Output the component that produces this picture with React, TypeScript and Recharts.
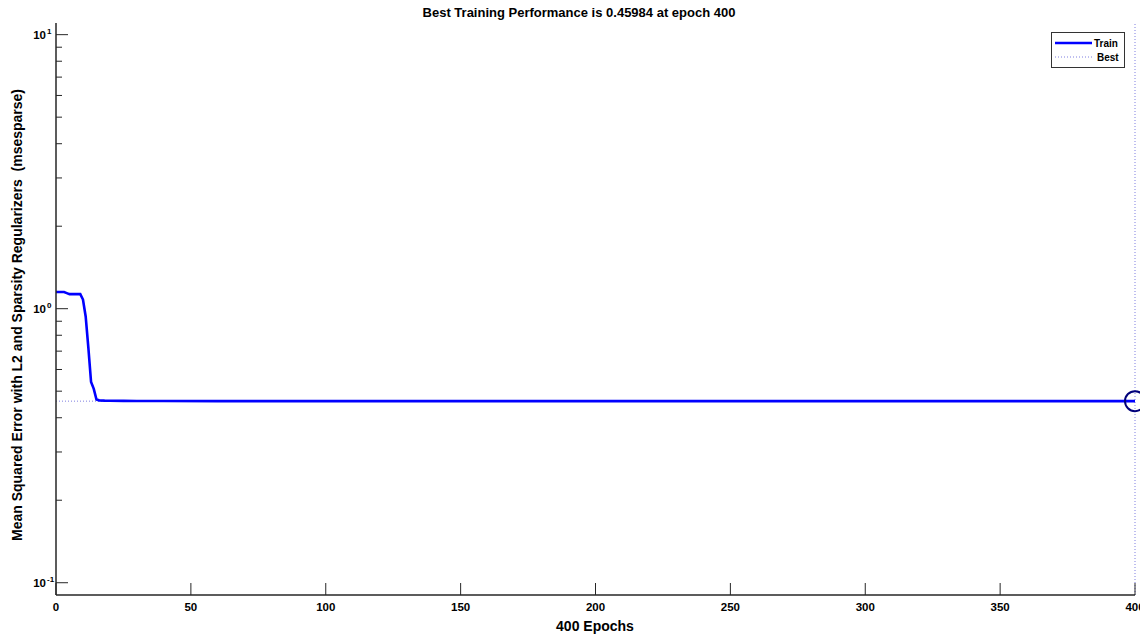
import React from 'react';
import {
  LineChart,
  Line,
  XAxis,
  YAxis,
  ReferenceLine,
  ReferenceDot,
  Legend,
  Customized
} from 'recharts';

// training record
const epochs = [0, 3, 4, 5, 9, 10, 11, 12, 13, 14, 15, 16, 18, 20, 25, 30, 40, 60, 100, 150, 200, 250, 300, 350, 400];
const trainPerf = [1.15, 1.15, 1.14, 1.13, 1.13, 1.08, 0.937, 0.72, 0.54, 0.51, 0.466, 0.463, 0.462, 0.4615, 0.461, 0.4607, 0.4603, 0.4601, 0.46, 0.4599, 0.45988, 0.45986, 0.45985, 0.45984, 0.45984];

const bestEpoch = 400;
const bestPerf = 0.45984;

const xTicks = [0, 50, 100, 150, 200, 250, 300, 350, 400];
const yMajor = [0.1, 1, 10];
const yMajorExp = ['-1', '0', '1'];
const yTicks = [0.1, 0.2, 0.3, 0.4, 0.5, 0.6, 0.7, 0.8, 0.9, 1, 2, 3, 4, 5, 6, 7, 8, 9, 10];
const yDomain = [0.0902, 11.03];

const data = epochs.map((e, i) => ({ epoch: e, train: trainPerf[i] }));

const FONT = '"Liberation Sans", Arial, sans-serif';
const AXIS = '#262626';
const BEST = '#7f7fe0';

const YTick = (props: any) => {
  const { x, y, payload } = props;
  const idx = yMajor.indexOf(payload.value);
  const major = idx >= 0;
  return (
    <g>
      <line x1={x} x2={x + (major ? 12 : 6)} y1={y} y2={y} stroke={AXIS} strokeWidth={1} />
      {major && (
        <text x={x - 10} y={y + 4} textAnchor="end" fontFamily={FONT} fontWeight="bold" fontSize={11.5} fill="#000">
          10
        </text>
      )}
      {major && (
        <text x={x - 9} y={y - 1} textAnchor="start" fontFamily={FONT} fontWeight="bold" fontSize={8} fill="#000">
          {yMajorExp[idx]}
        </text>
      )}
    </g>
  );
};

const XTick = (props: any) => {
  const { x, y, payload } = props;
  return (
    <g>
      <line x1={x} x2={x} y1={y} y2={y - 12} stroke={AXIS} strokeWidth={1} />
      <text x={x} y={y + 16} textAnchor="middle" fontFamily={FONT} fontWeight="bold" fontSize={11.5} fill="#000">
        {payload.value}
      </text>
    </g>
  );
};

const Labels = () => (
  <g fontFamily={FONT} fontWeight="bold" fill="#000">
    <text x={579} y={17} textAnchor="middle" fontSize={13}>
      Best Training Performance is 0.45984 at epoch 400
    </text>
    <text x={595} y={631} textAnchor="middle" fontSize={14}>
      400 Epochs
    </text>
    <text x={22} y={315} textAnchor="middle" fontSize={14} transform="rotate(-90 22 315)">
      {'Mean Squared Error with L2 and Sparsity Regularizers\u00a0 (msesparse)'}
    </text>
  </g>
);

const LegendBox = () => (
  <div
    style={{
      border: '1.5px solid #333',
      background: '#fff',
      width: 72,
      padding: '3px 0',
      fontFamily: FONT,
      fontWeight: 'bold',
      fontSize: 10,
      color: '#000'
    }}
  >
    <div style={{ display: 'flex', alignItems: 'center', height: 14 }}>
      <svg width={42} height={14}>
        <line x1={3} x2={40} y1={7} y2={7} stroke="#0000ff" strokeWidth={2.5} />
      </svg>
      <span>Train</span>
    </div>
    <div style={{ display: 'flex', alignItems: 'center', height: 14 }}>
      <svg width={42} height={14}>
        <line x1={3} x2={40} y1={7} y2={7} stroke={BEST} strokeWidth={1} strokeDasharray="1 2" />
      </svg>
      <span style={{ marginLeft: 3 }}>Best</span>
    </div>
  </div>
);

export default function App() {
  return (
    <div style={{ position: 'absolute', left: 0, top: 0, width: 1140, height: 638, background: '#fff', overflow: 'hidden' }}>
      <LineChart width={1140} height={638} data={data} margin={{ top: 23, right: 5, bottom: 42, left: 55 }}>
        <XAxis
          dataKey="epoch"
          type="number"
          domain={[0, 400]}
          ticks={xTicks}
          height={1}
          tickSize={0}
          tickMargin={0}
          tick={<XTick />}
          stroke={AXIS}
          strokeWidth={1.5}
          interval={0}
        />
        <YAxis
          scale="log"
          type="number"
          domain={yDomain}
          allowDataOverflow
          ticks={yTicks}
          width={1}
          tickSize={0}
          tickMargin={0}
          tick={<YTick />}
          stroke={AXIS}
          strokeWidth={1.5}
          interval={0}
        />
        <ReferenceLine y={bestPerf} stroke={BEST} strokeDasharray="1 2" strokeWidth={1} />
        <ReferenceLine
          segment={[
            { x: bestEpoch, y: yDomain[0] },
            { x: bestEpoch, y: yDomain[1] }
          ]}
          stroke={BEST}
          strokeDasharray="1 2"
          strokeWidth={1}
          ifOverflow="visible"
        />
        <Line
          dataKey="train"
          type="linear"
          stroke="#0000ff"
          strokeWidth={2.6}
          dot={false}
          isAnimationActive={false}
        />
        <ReferenceDot x={bestEpoch} y={bestPerf} r={10} fill="none" stroke="#00007a" strokeWidth={2} ifOverflow="visible" />
        <Legend
          layout="horizontal"
          align="center"
          verticalAlign="middle"
          content={<LegendBox />}
          wrapperStyle={{ position: 'absolute', left: 1051, top: 32, width: 75 }}
        />
        <Customized component={Labels} />
      </LineChart>
    </div>
  );
}
